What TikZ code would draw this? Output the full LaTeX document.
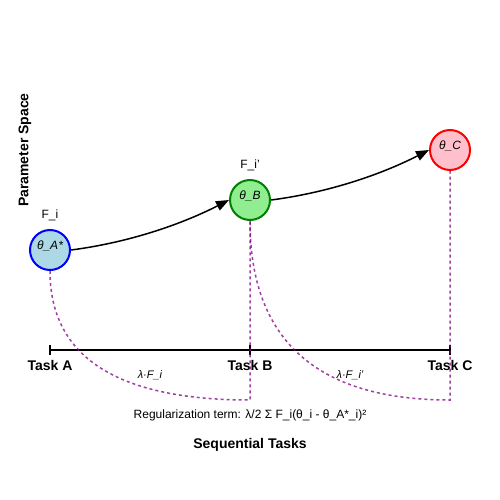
\documentclass[tikz,border=0pt]{standalone}
\usepackage{fontspec}
\setmainfont{Liberation Sans}
\usetikzlibrary{arrows.meta}
\definecolor{lblue}{HTML}{ADD8E6}
\definecolor{lgreen}{HTML}{90EE90}
\definecolor{lpink}{HTML}{FFC0CB}
\definecolor{dgreen}{HTML}{008000}
\definecolor{pblue}{HTML}{0000FF}
\definecolor{pred}{HTML}{FF0000}
\definecolor{ppurple}{HTML}{800080}
\tikzset{
  param/.style={circle, draw, line width=2pt, minimum size=40pt, inner sep=0pt},
  ptext/.style={font=\fontsize{12}{14}\selectfont\itshape, inner sep=0pt},
  ftext/.style={font=\fontsize{12}{14}\selectfont, inner sep=0pt},
  tasktext/.style={font=\fontsize{14}{16}\selectfont\bfseries, inner sep=0pt},
  lamtext/.style={font=\fontsize{11}{13}\selectfont\itshape, inner sep=0pt},
  move/.style={draw=black, line width=1.5pt, -{Triangle[length=13pt,width=10pt]}},
  reg/.style={draw=ppurple, draw opacity=0.75, line width=1.5pt, dash pattern=on 3pt off 3pt},
  axis/.style={draw=black, line width=2pt}
}
\begin{document}
\begin{tikzpicture}[x=1pt,y=-1pt]
\useasboundingbox (0,0) rectangle (500,500);
% parameter nodes
\node[param, fill=lblue, draw=pblue] (A) at (50,250) {};
\node[param, fill=lgreen, draw=dgreen] (B) at (250,200) {};
\node[param, fill=lpink, draw=pred] (C) at (450,150) {};
\node[ptext] (Atxt) at (50,246) {θ\_A*};
\node[ptext] (Btxt) at (250,196) {θ\_B};
\node[ptext] (Ctxt) at (450,146) {θ\_C};
\node[ftext] (FA) at (50,215) {F\_i};
\node[ftext] (FB) at (250,165) {F\_i'};
% axis
\coordinate (tA) at (50,350);
\coordinate (tB) at (250,350);
\coordinate (tC) at (450,350);
\draw[axis] (tA) -- (tC);
\draw[axis] ([yshift=-5pt]tA) -- ([yshift=5pt]tA);
\draw[axis] ([yshift=-5pt]tB) -- ([yshift=5pt]tB);
\draw[axis] ([yshift=-5pt]tC) -- ([yshift=5pt]tC);
\node[tasktext] (LA) at (50,365) {Task A};
\node[tasktext] (LB) at (250,365) {Task B};
\node[tasktext] (LC) at (450,365) {Task C};
% regularization paths
\coordinate (rB) at (250,400);
\coordinate (rC) at (450,400);
\draw[reg] (A.south) .. controls (50,356.7) and (116.7,400) .. (rB) -- (B.south);
\draw[reg] (B.south) .. controls (250,340) and (316.7,400) .. (rC) -- (C.south);
\node[lamtext] (L1) at (150,375) {λ·F\_i};
\node[lamtext] (L2) at (350,375) {λ·F\_i'};
% movement arrows
\draw[move] (A.east) .. controls (123.3,243.3) and (176.7,226.7) .. (B.west);
\draw[move] (B.east) .. controls (323.3,193.3) and (376.7,176.7) .. (C.west);
% texts
\node[ftext] (regterm) at (250,415) {Regularization term: λ/2 Σ F\_i(θ\_i - θ\_A*\_i)²};
\node[tasktext] (seq) at (250,445) {Sequential Tasks};
\node[tasktext, rotate=90] (ps) at (25,150) {Parameter Space};
\end{tikzpicture}
\end{document}
